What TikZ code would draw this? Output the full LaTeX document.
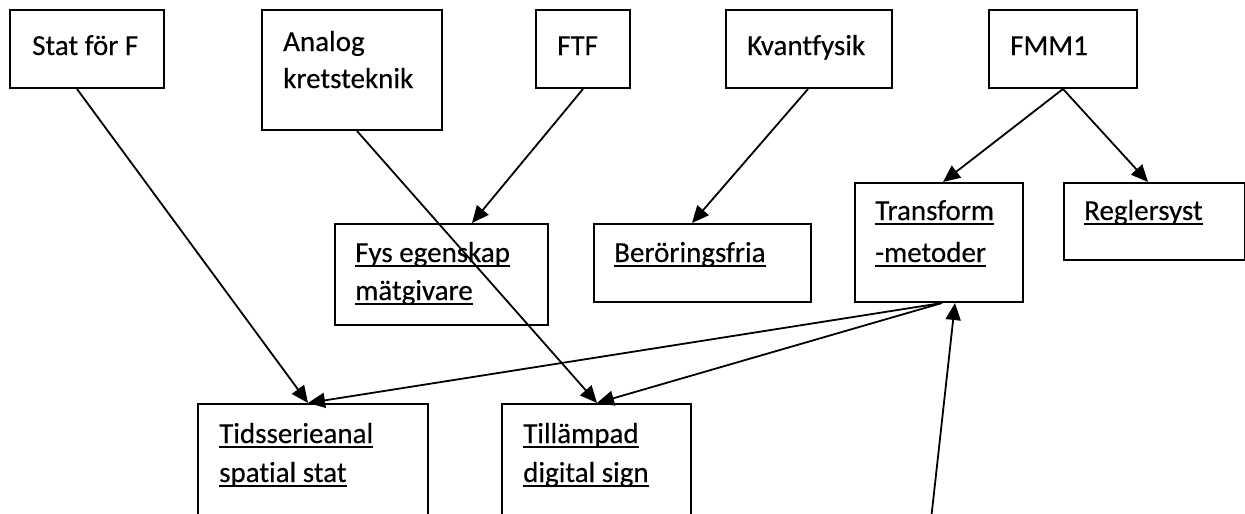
\documentclass[tikz,border=0pt]{standalone}
\usepackage{fontspec}
\setmainfont{Carlito}[Ligatures=NoCommon,FakeBold=0.3]
\usetikzlibrary{arrows.meta}
\newcommand\myul[1]{\setbox0\hbox{#1}\rlap{\rule[-4.5pt]{\wd0}{2pt}}\box0}
\begin{document}
\begin{tikzpicture}[x=1pt,y=-1pt,
  box/.style={draw=black,line width=2pt,rectangle,anchor=north west,inner sep=0pt},
  txt/.style={anchor=base west,inner sep=0pt,font=\fontsize{29}{38}\selectfont},
  conn/.style={line width=1.8pt,-{Triangle[length=17pt,width=15pt]}}]
\clip (0,0) rectangle (1245,514);
\fill[white] (0,0) rectangle (1245,514);
% top row
\node[box,minimum width=154pt,minimum height=78pt] (stat) at (9,9) {};
\node[txt] (statT) at (32,55) {Stat för F};
\node[box,minimum width=180pt,minimum height=120pt] (analog) at (261,9) {};
\node[txt] (analogT1) at (283,51) {Analog};
\node[txt] (analogT2) at (283,88) {kretsteknik};
\node[box,minimum width=94pt,minimum height=78pt] (ftf) at (535,9) {};
\node[txt] (ftfT) at (557,55) {FTF};
\node[box,minimum width=166pt,minimum height=78pt] (kvant) at (725,9) {};
\node[txt] (kvantT) at (747,55) {Kvantfysik};
\node[box,minimum width=148pt,minimum height=78pt] (fmm) at (988,9) {};
\node[txt] (fmmT) at (1010,55) {FMM1};
% middle row
\node[box,minimum width=213pt,minimum height=101pt] (fys) at (334,223) {};
\node[txt] (fysT1) at (355,262) {\myul{Fys egenskap}};
\node[txt] (fysT2) at (355,300) {\myul{mätgivare}};
\node[box,minimum width=217pt,minimum height=78pt] (ber) at (593,223) {};
\node[txt] (berT) at (614,262) {\myul{Beröringsfria}};
\node[box,minimum width=168pt,minimum height=119pt] (trans) at (854,182) {};
\node[txt] (transT1) at (875,220) {\myul{Transform}};
\node[txt] (transT2) at (875,262) {\myul{-metoder}};
\node[box,minimum width=181pt,minimum height=77pt] (regl) at (1063,182) {};
\node[txt] (reglT) at (1084,220) {\myul{Reglersyst}};
% bottom row
\node[box,minimum width=230pt,minimum height=150pt] (tids) at (197,403) {};
\node[txt] (tidsT1) at (219,443) {\myul{Tidsserieanal}};
\node[txt] (tidsT2) at (219,482) {\myul{spatial stat}};
\node[box,minimum width=189pt,minimum height=150pt] (till) at (501,403) {};
\node[txt] (tillT1) at (523,443) {\myul{Tillämpad}};
\node[txt] (tillT2) at (523,482) {\myul{digital sign}};
\coordinate (below) at (931,520);
% connectors
\draw[conn] ([xshift=68pt]stat.south west) -- ([xshift=111pt]tids.north west);
\draw[conn] ([xshift=96pt]analog.south west) -- ([xshift=96pt]till.north west);
\draw[conn] ([xshift=48pt]ftf.south west) -- ([xshift=138pt]fys.north west);
\draw[conn] ([xshift=83pt]kvant.south west) -- ([xshift=99pt]ber.north west);
\draw[conn] ([xshift=75pt]fmm.south west) -- ([xshift=89pt]trans.north west);
\draw[conn] ([xshift=75pt]fmm.south west) -- ([xshift=85pt]regl.north west);
\draw[conn] ([xshift=88pt]trans.south west) -- ([xshift=111pt]tids.north west);
\draw[conn] ([xshift=88pt]trans.south west) -- ([xshift=96pt]till.north west);
\draw[conn] (below) -- ([xshift=101pt]trans.south west);
\end{tikzpicture}
\end{document}
